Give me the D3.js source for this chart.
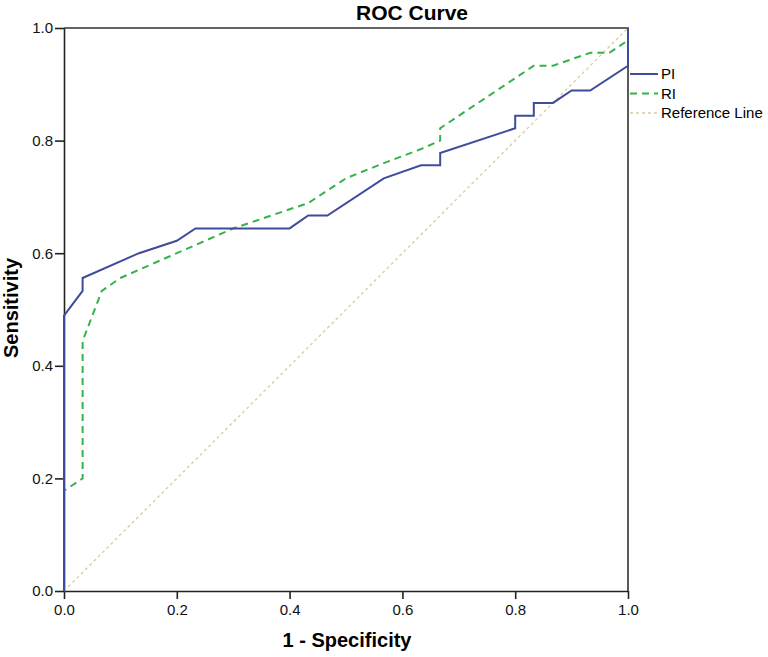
<!DOCTYPE html>
<meta charset="utf-8">
<style>
body { margin: 0; background: #fff; }
text { font-family: Arial, "Liberation Sans", sans-serif; fill: #000; }
.tick text { font-size: 15px; fill: #111; }
.axis path, .axis line { stroke: #222; stroke-width: 1.6px; }
</style>
<svg width="768" height="657"></svg>
<script src="https://d3js.org/d3.v7.min.js"></script>
<script>

// ROC points: [1 - specificity, sensitivity]
var piFpr  = [0, 0, 0.033, 0.033, 0.133, 0.2, 0.233, 0.4, 0.433, 0.467, 0.567, 0.633, 0.667, 0.667, 0.8, 0.8, 0.833, 0.833, 0.867, 0.9, 0.933, 1, 1];
var piSens = [0, 0.489, 0.533, 0.556, 0.6, 0.622, 0.644, 0.644, 0.667, 0.667, 0.733, 0.756, 0.756, 0.778, 0.822, 0.844, 0.844, 0.867, 0.867, 0.889, 0.889, 0.933, 1];

var riFpr  = [0, 0, 0.033, 0.033, 0.067, 0.1, 0.2, 0.3, 0.4, 0.433, 0.5, 0.567, 0.633, 0.667, 0.667, 0.833, 0.867, 0.933, 0.967, 1, 1];
var riSens = [0, 0.178, 0.2, 0.444, 0.533, 0.556, 0.6, 0.644, 0.678, 0.689, 0.733, 0.76, 0.785, 0.8, 0.822, 0.933, 0.933, 0.956, 0.956, 0.978, 1];

var refFpr  = [0, 1];
var refSens = [0, 1];

var ticks = [0, 0.2, 0.4, 0.6, 0.8, 1.0];

var series = [
  { name: "PI", fpr: piFpr, sens: piSens, color: "#3f4c9b", width: 2, dash: null },
  { name: "RI", fpr: riFpr, sens: riSens, color: "#35b24a", width: 2, dash: "7,5" },
  { name: "Reference Line", fpr: refFpr, sens: refSens, color: "#d8cba2", width: 1.3, dash: "3,3" }
];

var svg = d3.select("svg"),
    margin = { top: 28, left: 64 },
    w = 564, h = 563;

var x = d3.scaleLinear().domain([0, 1]).range([margin.left, margin.left + w]),
    y = d3.scaleLinear().domain([0, 1]).range([margin.top + h, margin.top]);

var fmt = d3.format(".1f");

// frame (top and right)
svg.append("path")
    .attr("d", "M" + x(0) + "," + y(1) + "H" + x(1) + "V" + y(0))
    .attr("fill", "none")
    .attr("stroke", "#333")
    .attr("stroke-width", 1.6);

svg.append("g")
    .attr("class", "axis")
    .attr("transform", "translate(0," + y(0) + ")")
    .call(d3.axisBottom(x).tickValues(ticks).tickFormat(fmt).tickSize(8).tickPadding(5).tickSizeOuter(0));

svg.append("g")
    .attr("class", "axis")
    .attr("transform", "translate(" + x(0) + ",0)")
    .call(d3.axisLeft(y).tickValues(ticks).tickFormat(fmt).tickSize(9).tickPadding(2).tickSizeOuter(0));

var line = d3.line()
    .x(function(d) { return x(d[0]); })
    .y(function(d) { return y(d[1]); });

// reference first so the curves sit on top
series.slice().reverse().forEach(function(s) {
  svg.append("path")
      .datum(d3.zip(s.fpr, s.sens))
      .attr("d", line)
      .attr("fill", "none")
      .attr("stroke", s.color)
      .attr("stroke-width", s.width)
      .attr("stroke-dasharray", s.dash);
});

// legend
var legend = svg.append("g").attr("transform", "translate(630,74)");
series.forEach(function(s, i) {
  var g = legend.append("g").attr("transform", "translate(0," + (i * 19.5) + ")");
  g.append("line")
      .attr("x1", 0).attr("x2", 28)
      .attr("stroke", s.color)
      .attr("stroke-width", s.width)
      .attr("stroke-dasharray", s.dash);
  g.append("text")
      .attr("x", 31)
      .attr("dy", "0.35em")
      .style("font-size", "15px")
      .text(s.name);
});

svg.append("text")
    .attr("x", 412).attr("y", 20)
    .attr("text-anchor", "middle")
    .style("font-size", "21px").style("font-weight", "bold")
    .text("ROC Curve");

svg.append("text")
    .attr("x", 347).attr("y", 647)
    .attr("text-anchor", "middle")
    .style("font-size", "20px").style("font-weight", "bold")
    .text("1 - Specificity");

svg.append("text")
    .attr("transform", "translate(18,308) rotate(-90)")
    .attr("text-anchor", "middle")
    .style("font-size", "20px").style("font-weight", "bold")
    .text("Sensitivity");

</script>
